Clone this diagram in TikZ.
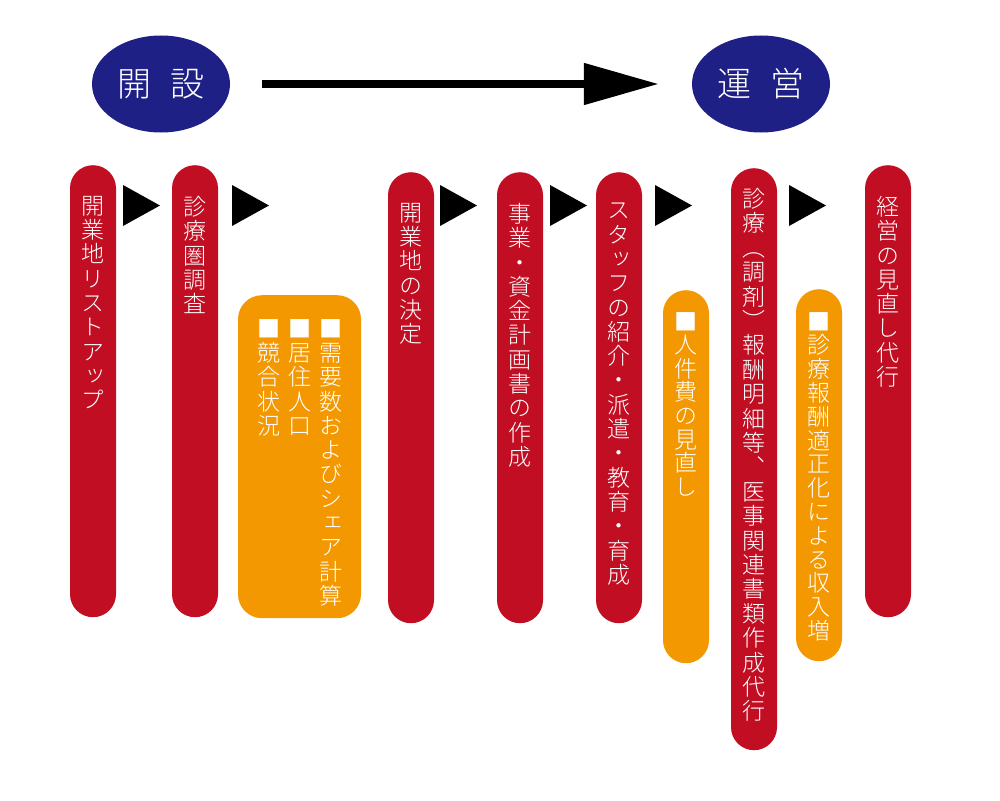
\documentclass[tikz,border=0pt]{standalone}
\usepackage{fontspec}
\IfFontExistsTF{Noto Sans CJK JP Light}{%
  \setmainfont{Noto Sans CJK JP Light}
  \newfontfamily\tatefont{Noto Sans CJK JP Light}[RawFeature=+vert]
}{%
  \setmainfont{Noto Sans CJK JP}
  \newfontfamily\tatefont{Noto Sans CJK JP}[RawFeature=+vert]
}
\usetikzlibrary{shapes.geometric,arrows.meta,positioning}

\definecolor{barred}{RGB}{193,14,35}
\definecolor{barorange}{RGB}{243,152,0}
\definecolor{phasenavy}{RGB}{30,32,134}

% vertical text: one character per line
\makeatletter
\newcommand\tatestack[2][24.3pt]{\vtop{\baselineskip=#1\lineskiplimit=-100pt\lineskip=0pt\tate@loop#2\relax}}
\def\tate@loop#1{\ifx\relax#1\else\hbox to 24pt{\hss#1\hss}\expandafter\tate@loop\fi}
\makeatother

\begin{document}
\begin{tikzpicture}[x=1pt, y=-1pt,
    phase/.style={ellipse, fill=phasenavy, text=white, minimum width=138pt, minimum height=97pt, inner sep=0pt, font=\fontsize{34}{34}\selectfont},
    redbar/.style={fill=barred, rounded corners=23pt, minimum width=46pt, inner sep=0pt, anchor=north},
    orangebar/.style={fill=barorange, rounded corners=23pt, minimum width=46pt, inner sep=0pt, anchor=north},
    tatetext/.style={text=white, inner sep=0pt, font=\tatefont\fontsize{23}{24}\selectfont},
    bigarrow/.style={line width=8pt, -{Triangle[length=75pt,width=40pt]}, shorten <=32pt, shorten >=33pt}]
  \useasboundingbox (0,0) rectangle (1000,800);

  % phases
  \node[phase] (kaisetsu) at (161,84) {開\hspace{0.55em}設};
  \node[phase] (unei) at (761,84) {運\hspace{0.55em}営};
  \draw[bigarrow] (kaisetsu) -- (unei);

  % steps
  \node[redbar, minimum height=452pt] (listup) at (93,165) {};
  \node[tatetext, below=31pt of listup.north] (listuptext) {\tatestack{開業地リストアップ}};

  \node[redbar, minimum height=452pt] (survey) at (195,165) {};
  \node[tatetext, below=31pt of survey.north] (surveytext) {\tatestack{診療圏調査}};

  \node[orangebar, minimum width=123pt, minimum height=323pt, rounded corners=24pt] (areabox) at (299.5,295) {};
  \node[tatetext, below=24pt of areabox.north] (areatext) {\tatestack{■競合状況}\hspace{7pt}\tatestack{■居住人口}\hspace{7pt}\tatestack{■需要数およびシェア計算}};

  \node[redbar, minimum height=451pt] (decide) at (411,172) {};
  \node[tatetext, below=31pt of decide.north] (decidetext) {\tatestack{開業地の決定}};

  \node[redbar, minimum height=451pt] (plan) at (520,172) {};
  \node[tatetext, below=31pt of plan.north] (plantext) {\tatestack{事業・資金計画書の作成}};

  \node[redbar, minimum height=451pt] (staff) at (619,172) {};
  \node[tatetext, below=31pt of staff.north] (stafftext) {\tatestack{スタッフの紹介・派遣・教育・育成}};

  \node[orangebar, minimum height=373pt] (labor) at (686,290) {};
  \node[tatetext, below=22pt of labor.north] (labortext) {\tatestack[23.6pt]{■人件費の見直し}};

  \node[redbar, minimum height=582pt] (claim) at (754,168) {};
  \node[tatetext, below=20pt of claim.north] (claimtext) {\tatestack[24.4pt]{診療（調剤）報酬明細等、医事関連書類作成代行}};

  \node[orangebar, minimum height=372pt] (income) at (819,289) {};
  \node[tatetext, below=23pt of income.north] (incometext) {\tatestack[23.8pt]{■診療報酬適正化による収入増}};

  \node[redbar, minimum height=452pt] (review) at (888,165) {};
  \node[tatetext, below=31pt of review.north] (reviewtext) {\tatestack{経営の見直し代行}};

  % step marks
  \foreach \x in {123,232,440,550,655,789}
    \fill (\x,185) -- ++(37,20.5) -- (\x,226) -- cycle;
\end{tikzpicture}
\end{document}
